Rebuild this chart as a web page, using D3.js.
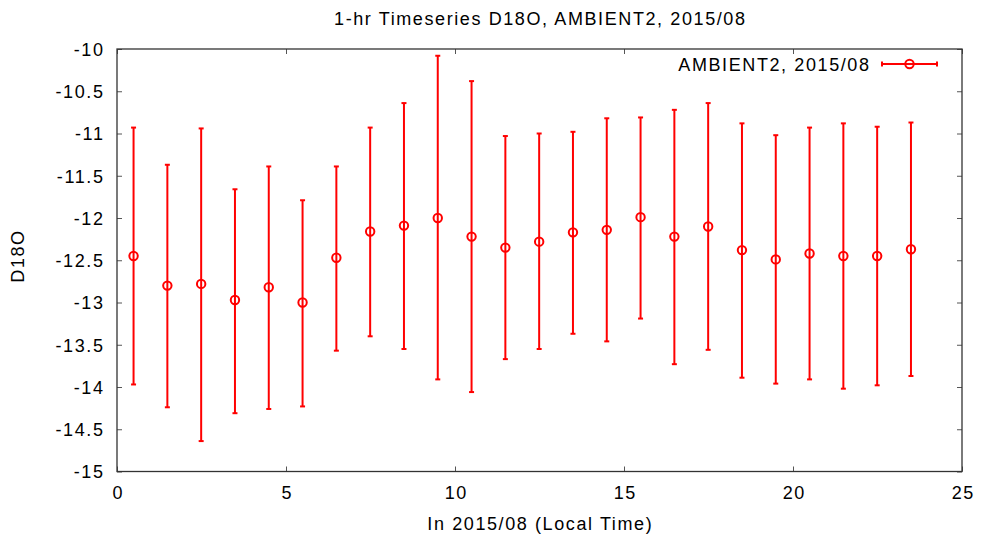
<!DOCTYPE html>
<html>
<head>
<meta charset="utf-8">
<script src="https://cdn.jsdelivr.net/npm/d3@7"></script>
<style>
  html, body { margin: 0; padding: 0; background: #fff; }
  svg text { font-family: "Liberation Sans", Arial, sans-serif; font-size: 18px; letter-spacing: 1.6px; fill: #000; }
</style>
</head>
<body>
<svg id="chart" width="986" height="546"></svg>
<script>
// ---- data ----
const hours = [0.49, 1.49, 2.49, 3.49, 4.49, 5.49, 6.49, 7.49, 8.49, 9.49, 10.49, 11.49,
               12.49, 13.49, 14.49, 15.49, 16.49, 17.49, 18.49, 19.49, 20.49, 21.49, 22.49, 23.49];
const means = [-12.45, -12.80, -12.78, -12.97, -12.82, -13.00, -12.47, -12.16, -12.09, -12.00, -12.22, -12.35,
               -12.28, -12.17, -12.14, -11.99, -12.22, -12.10, -12.38, -12.49, -12.42, -12.45, -12.45, -12.37];
const upper = [-10.93, -11.37, -10.94, -11.66, -11.39, -11.79, -11.39, -10.93, -10.64, -10.08, -10.38, -11.03,
               -11.00, -10.98, -10.82, -10.81, -10.72, -10.64, -10.88, -11.02, -10.93, -10.88, -10.92, -10.87];
const lower = [-13.97, -14.24, -14.64, -14.31, -14.26, -14.23, -13.57, -13.40, -13.55, -13.91, -14.06, -13.67,
               -13.55, -13.37, -13.46, -13.19, -13.73, -13.56, -13.89, -13.96, -13.91, -14.02, -13.98, -13.87];
const xTicks = [0, 5, 10, 15, 20, 25];
const yTicks = [-10, -10.5, -11, -11.5, -12, -12.5, -13, -13.5, -14, -14.5, -15];

const title = "1-hr Timeseries D18O, AMBIENT2, 2015/08";
const xLabel = "In 2015/08 (Local Time)";
const yLabel = "D18O";
const seriesName = "AMBIENT2, 2015/08";

// ---- layout ----
const svg = d3.select("#chart");
const L = 117, R = 962, T = 49, B = 471.5;
const red = "#ff0000";
const ls = 1.6;

const x = d3.scaleLinear().domain([0, 25]).range([L, R]);
const y = d3.scaleLinear().domain([-15, -10]).range([B, T]);

const data = hours.map((h, i) => ({ h, m: means[i], hi: upper[i], lo: lower[i] }));

// axes (ticks inward, mirrored)
const fmt = d => String(d);
const gL = svg.append("g").attr("transform", `translate(${L},0)`)
  .call(d3.axisLeft(y).tickValues(yTicks).tickFormat(fmt).tickSize(-5).tickPadding(12.5));
const gR = svg.append("g").attr("transform", `translate(${R},0)`)
  .call(d3.axisRight(y).tickValues(yTicks).tickFormat("").tickSize(-5));
const gB = svg.append("g").attr("transform", `translate(0,${B})`)
  .call(d3.axisBottom(x).tickValues(xTicks).tickFormat(fmt).tickSize(-5));
const gT = svg.append("g").attr("transform", `translate(0,${T})`)
  .call(d3.axisTop(x).tickValues(xTicks).tickFormat("").tickSize(-5));

[gL, gR, gB, gT].forEach(g => {
  g.select(".domain").remove();
  g.selectAll(".tick line").attr("stroke", "#555").attr("stroke-width", 1);
  g.selectAll("text").attr("font-family", null).attr("font-size", null).style("font-size", "18px");
});
gL.selectAll(".tick text").attr("dy", "0.36em");
gB.selectAll(".tick text").attr("y", 27.5).attr("dy", 0).attr("dx", ls / 2);

// frame
svg.append("rect")
  .attr("x", L).attr("y", T).attr("width", R - L).attr("height", B - T)
  .attr("fill", "none").attr("stroke", "#333").attr("stroke-width", 1.3);

// titles
svg.append("text").attr("x", (L + R) / 2 + ls / 2).attr("y", 25)
  .attr("text-anchor", "middle").text(title);
svg.append("text").attr("x", (L + R) / 2 + ls / 2).attr("y", 530)
  .attr("text-anchor", "middle").text(xLabel);
svg.append("text").attr("transform", `translate(23.5,${256}) rotate(-90)`)
  .attr("text-anchor", "middle").text(yLabel);

// error bars
const plot = svg.append("g");
const cap = 2.5;
plot.selectAll("line.bar").data(data).join("line").attr("class", "bar")
  .attr("x1", d => x(d.h)).attr("x2", d => x(d.h))
  .attr("y1", d => y(d.hi)).attr("y2", d => y(d.lo))
  .attr("stroke", red).attr("stroke-width", 2);
plot.selectAll("line.capT").data(data).join("line").attr("class", "capT")
  .attr("x1", d => x(d.h) - cap).attr("x2", d => x(d.h) + cap)
  .attr("y1", d => y(d.hi)).attr("y2", d => y(d.hi))
  .attr("stroke", red).attr("stroke-width", 2);
plot.selectAll("line.capB").data(data).join("line").attr("class", "capB")
  .attr("x1", d => x(d.h) - cap).attr("x2", d => x(d.h) + cap)
  .attr("y1", d => y(d.lo)).attr("y2", d => y(d.lo))
  .attr("stroke", red).attr("stroke-width", 2);
plot.selectAll("circle").data(data).join("circle")
  .attr("cx", d => x(d.h)).attr("cy", d => y(d.m)).attr("r", 4.2)
  .attr("fill", "none").attr("stroke", red).attr("stroke-width", 2);

// legend
const lg = svg.append("g");
const lx1 = 882, lx2 = 937, ly = 64;
lg.append("text").attr("x", 869 + ls).attr("y", 71).attr("text-anchor", "end").text(seriesName);
lg.append("line").attr("x1", lx1).attr("x2", lx2).attr("y1", ly).attr("y2", ly)
  .attr("stroke", red).attr("stroke-width", 2);
[lx1, lx2].forEach(px => lg.append("line").attr("x1", px).attr("x2", px)
  .attr("y1", ly - cap).attr("y2", ly + cap).attr("stroke", red).attr("stroke-width", 2));
lg.append("circle").attr("cx", (lx1 + lx2) / 2).attr("cy", ly).attr("r", 4.2)
  .attr("fill", "none").attr("stroke", red).attr("stroke-width", 2);
</script>
</body>
</html>
